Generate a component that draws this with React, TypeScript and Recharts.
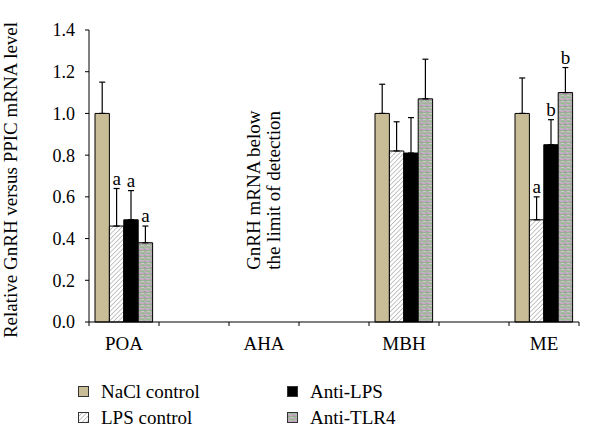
import React from "react";
import { BarChart, Bar, XAxis, YAxis, ErrorBar, LabelList, ReferenceDot } from "recharts";

// ---- data ----
const slots = ["POA", "s1", "AHA", "s2", "MBH", "s3", "ME"];
const slotLabels = ["POA", "", "AHA", "", "MBH", "", "ME"];
const regions = ["POA", "AHA", "MBH", "ME"];

const naclValues = [1.0, null, 1.0, 1.0];
const lpsValues = [0.46, null, 0.82, 0.49];
const antiLpsValues = [0.49, null, 0.81, 0.85];
const tlr4Values = [0.38, null, 1.07, 1.1];

const naclErr = [0.15, null, 0.14, 0.17];
const lpsErr = [0.18, null, 0.14, 0.11];
const antiLpsErr = [0.14, null, 0.17, 0.12];
const tlr4Err = [0.08, null, 0.19, 0.12];

const naclSig = ["", "", "", ""];
const lpsSig = ["a", "", "", "a"];
const antiLpsSig = ["a", "", "", "b"];
const tlr4Sig = ["a", "", "", "b"];

const seriesNames = ["NaCl control", "LPS control", "Anti-LPS", "Anti-TLR4"];
const yTicks = [0, 0.2, 0.4, 0.6, 0.8, 1.0, 1.2, 1.4];
const yLabel = "Relative GnRH versus PPIC mRNA level";
const noteLines = ["GnRH mRNA below", "the limit of detection"];
const noteRegion = "AHA";
const noteValue = 0.25;

const FONT = "Liberation Serif";
const FS = 19;

const keys = ["nacl", "lps", "antiLps", "tlr4"];
const valueLists = [naclValues, lpsValues, antiLpsValues, tlr4Values];
const errLists = [naclErr, lpsErr, antiLpsErr, tlr4Err];
const sigLists = [naclSig, lpsSig, antiLpsSig, tlr4Sig];

const data = slots.map((slot, i) => {
  const r = regions.indexOf(slot);
  const row: any = { slot, label: slotLabels[i] };
  if (r < 0) return row;
  keys.forEach((k, s) => {
    const v = valueLists[s][r];
    const e = errLists[s][r];
    row[k] = v;
    row[`${k}E`] = e == null ? null : [0, e];
    row[`${k}Ev`] = e;
    row[`${k}S`] = sigLists[s][r];
  });
  return row;
});

const fills = ["#c8bd96", "url(#hatchLps)", "#000000", "url(#tlr4Tex)"];

const SigLabel = (props: any) => {
  const { x, y, width, height, value } = props;
  if (!value || typeof value !== "string") return null;
  const [letter, errS, valS] = value.split("|");
  if (!letter) return null;
  const err = parseFloat(errS) || 0;
  const val = parseFloat(valS) || 0;
  const ppu = val ? Math.abs(height) / val : 0;
  const top = Math.min(y, y + height) - err * ppu;
  return (
    <text x={x + width / 2} y={top - 4} textAnchor="middle" fontFamily={FONT} fontSize={FS} fill="#000">
      {letter}
    </text>
  );
};

const XTick = (props: any) => {
  const { x, y, payload, index } = props;
  const half = payload && payload.offset ? payload.offset : 35;
  const lbl = slotLabels[index] ?? "";
  return (
    <g>
      {index === 0 && <line x1={x - half} y1={y} x2={x - half} y2={y + 4} stroke="#000" />}
      <line x1={x + half} y1={y} x2={x + half} y2={y + 4} stroke="#000" />
      <text x={x} y={y + 28} textAnchor="middle" fontFamily={FONT} fontSize={FS} fill="#000">
        {lbl}
      </text>
    </g>
  );
};

const YLabel = (props: any) => {
  const vb = props.viewBox || {};
  const cy = vb.y + vb.height / 2 + 4;
  const cx = 10;
  return (
    <text
      x={cx}
      y={cy}
      transform={`rotate(-90, ${cx}, ${cy})`}
      textAnchor="middle"
      dominantBaseline="central"
      fontFamily={FONT}
      fontSize={FS}
      fill="#000"
    >
      {yLabel}
    </text>
  );
};

const NoteLabel = (props: any) => {
  const vb = props.viewBox || {};
  const cx = vb.cx ?? vb.x;
  const cy = vb.cy ?? vb.y;
  return (
    <g>
      {noteLines.map((t, i) => {
        const lx = cx + (i - 0.5) * 20;
        return (
          <text
            key={i}
            x={lx}
            y={cy}
            transform={`rotate(-90, ${lx}, ${cy})`}
            textAnchor="start"
            dominantBaseline="central"
            fontFamily={FONT}
            fontSize={FS}
            fill="#000"
          >
            {t}
          </text>
        );
      })}
    </g>
  );
};

const Swatch = ({ fill }: { fill: string }) => (
  <svg width={11} height={11} style={{ display: "block" }}>
    <rect x={0.5} y={0.5} width={10} height={10} fill={fill} stroke="#333" />
  </svg>
);

export default function App() {
  const legendPos = [
    { left: 78, top: 385 },
    { left: 78, top: 411 },
    { left: 287, top: 385 },
    { left: 287, top: 411 },
  ];
  return (
    <div style={{ position: "absolute", left: 0, top: 0, width: 600, height: 448, background: "#fff" }}>
      <BarChart
        width={600}
        height={448}
        data={data}
        margin={{ top: 30, right: 21, left: 0, bottom: 86 }}
        barGap={0}
        barSize={14.4}
      >
        <defs>
          <pattern id="hatchLps" width="3.2" height="3.2" patternUnits="userSpaceOnUse" patternTransform="rotate(45)">
            <rect width="3.2" height="3.2" fill="#ffffff" />
            <line x1="0" y1="0" x2="0" y2="3.2" stroke="#8a8a8a" strokeWidth="1" />
          </pattern>
          <pattern id="tlr4Tex" width="6" height="6" patternUnits="userSpaceOnUse">
            <rect width="6" height="6" fill="#a5b8a0" />
            <rect x="0" y="0" width="3" height="1" fill="#c6a2c0" />
            <rect x="3" y="1" width="3" height="1" fill="#98b894" />
            <rect x="1" y="2" width="4" height="1" fill="#bdb6c2" />
            <rect x="0" y="3" width="2" height="1" fill="#b595b3" />
            <rect x="2" y="3" width="4" height="1" fill="#cca6c6" />
            <rect x="0" y="4" width="6" height="1" fill="#94b091" />
            <rect x="3" y="5" width="3" height="1" fill="#cdc6ca" />
          </pattern>
        </defs>
        <XAxis
          dataKey="slot"
          type="category"
          tick={<XTick />}
          tickLine={false}
          tickSize={0}
          tickMargin={0}
          interval={0}
          height={40}
          axisLine={{ stroke: "#000" }}
        />
        <YAxis
          type="number"
          domain={[0, 1.4]}
          ticks={yTicks}
          tickFormatter={(v: number) => v.toFixed(1)}
          width={89}
          tickSize={4}
          tickMargin={10}
          axisLine={{ stroke: "#000" }}
          tickLine={{ stroke: "#000" }}
          tick={{ fill: "#000", fontFamily: FONT, fontSize: 18 }}
          label={<YLabel />}
          interval={0}
        />
        {keys.map((k, i) => (
          <Bar key={k} dataKey={k} name={seriesNames[i]} fill={fills[i]} stroke="#000" strokeWidth={1} isAnimationActive={false}>
            <ErrorBar dataKey={`${k}E`} width={3} stroke="#000" strokeWidth={1.2} direction="y" />
            <LabelList
              dataKey={(d: any) => (d[`${k}S`] ? `${d[`${k}S`]}|${d[`${k}Ev`]}|${d[k]}` : "")}
              content={<SigLabel />}
            />
          </Bar>
        ))}
        <ReferenceDot x={noteRegion} y={noteValue} r={0} stroke="none" fill="none" label={<NoteLabel />} ifOverflow="visible" />
      </BarChart>
      {seriesNames.map((n, i) => (
        <div
          key={n}
          style={{
            position: "absolute",
            left: legendPos[i].left,
            top: legendPos[i].top,
            display: "flex",
            alignItems: "center",
            fontFamily: FONT,
            fontSize: FS,
            lineHeight: "13px",
            color: "#000",
          }}
        >
          <Swatch fill={fills[i]} />
          <span style={{ marginLeft: 12, whiteSpace: "nowrap" }}>{n}</span>
        </div>
      ))}
    </div>
  );
}
